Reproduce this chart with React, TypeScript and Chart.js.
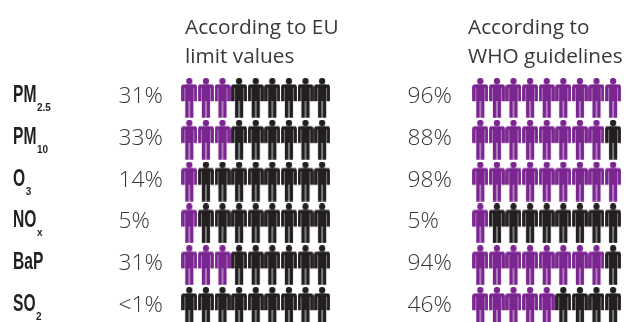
import React, { useEffect, useRef } from "react";
import { Chart, registerables } from "chart.js";

Chart.register(...registerables);

const rows = ["PM", "PM", "O", "NO", "BaP", "SO"];
const subs = ["2.5", "10", "3", "x", "", "2"];
const euLabels = ["31%", "33%", "14%", "5%", "31%", "<1%"];
const whoLabels = ["96%", "88%", "98%", "5%", "94%", "46%"];
const euFilled = [3, 3, 1, 1, 3, 0];
const whoFilled = [9, 8, 9, 1, 8, 5];
const euTitle = ["According to EU", "limit values"];
const whoTitle = ["According to", "WHO guidelines"];
const PEOPLE = 9;
const WHO_OFFSET = 17.53;
const PURPLE = "#7b2590";
const BLACK = "#231f20";
const TEXT = "#38383a";

function person(color: string) {
  const c = document.createElement("canvas");
  c.width = 16;
  c.height = 40;
  const g = c.getContext("2d")!;
  g.translate(8, 0);
  g.fillStyle = color;
  g.beginPath();
  g.arc(0, 3.1, 3.2, 0, Math.PI * 2);
  g.fill();
  // shoulders and torso
  g.beginPath();
  g.roundRect(-4.6, 6.6, 9.2, 16.4, [2, 2, 0, 0]);
  g.fill();
  // arms
  g.beginPath();
  g.roundRect(-7.9, 6.6, 2.9, 16.6, [2.4, 0, 0, 0]);
  g.roundRect(5.0, 6.6, 2.9, 16.6, [0, 2.4, 0, 0]);
  g.rect(-7, 6.6, 14, 3.2);
  g.fill();
  // legs
  g.beginPath();
  g.rect(-4.1, 22, 3.7, 17.7);
  g.rect(0.4, 22, 3.7, 17.7);
  g.fill();
  return c;
}

function points(filled: number[], offset: number, purple: boolean) {
  const out: { x: number; y: number }[] = [];
  filled.forEach((n, y) => {
    for (let i = 0; i < PEOPLE; i++) {
      if (i < n === purple) out.push({ x: i + offset, y });
    }
  });
  return out;
}

const textPlugin = {
  id: "texts",
  afterDatasetsDraw(chart: any) {
    const ctx = chart.ctx as CanvasRenderingContext2D;
    const yScale = chart.scales.y;
    ctx.save();
    ctx.textBaseline = "alphabetic";
    ctx.textAlign = "left";
    ctx.fillStyle = TEXT;
    ctx.font = '400 20.8px "Open Sans"';
    euTitle.forEach((t, i) => ctx.fillText(t, 185, 33.5 + i * 29));
    whoTitle.forEach((t, i) => ctx.fillText(t, 468, 33.5 + i * 29));
    ctx.font = '300 22.8px "Open Sans"';
    rows.forEach((_, i) => {
      const y = yScale.getPixelForValue(i) + 5;
      ctx.fillText(euLabels[i], 118.5, y);
      ctx.fillText(whoLabels[i], 407.5, y);
    });
    ctx.fillStyle = "#231f20";
    rows.forEach((name, i) => {
      const y = yScale.getPixelForValue(i) + 4;
      ctx.save();
      ctx.translate(13, y);
      ctx.save();
      ctx.scale(0.65, 1);
      ctx.font = 'bold 24px "Liberation Sans"';
      ctx.fillText(name, 0, 0);
      const w = ctx.measureText(name).width * 0.65;
      ctx.restore();
      ctx.scale(0.95, 1);
      ctx.font = 'bold 10.5px "Liberation Sans"';
      ctx.fillText(subs[i], (w + 0.5) / 0.95, 9);
      ctx.restore();
    });
    ctx.restore();
  },
};

export default function App() {
  const ref = useRef<HTMLCanvasElement>(null);
  useEffect(() => {
    document.body.style.margin = "0";
    const purple = person(PURPLE);
    const black = person(BLACK);
    const common = { pointRadius: 10, showLine: false };
    const chart = new Chart(ref.current!, {
      type: "scatter",
      data: {
        datasets: [
          { label: "EU exceed", data: points(euFilled, 0, true), pointStyle: purple, ...common },
          { label: "EU below", data: points(euFilled, 0, false), pointStyle: black, ...common },
          { label: "WHO exceed", data: points(whoFilled, WHO_OFFSET, true), pointStyle: purple, ...common },
          { label: "WHO below", data: points(whoFilled, WHO_OFFSET, false), pointStyle: black, ...common },
        ],
      } as any,
      options: {
        animation: false,
        responsive: false,
        layout: { padding: 0, autoPadding: false },
        clip: false,
        plugins: { legend: { display: false }, tooltip: { enabled: false } },
        scales: {
          x: { type: "linear", display: false, min: -189.3 / 16.6, max: (626 - 189.3) / 16.6 },
          y: { type: "linear", display: false, reverse: true, min: -98 / 41.8, max: (322 - 98) / 41.8 },
        },
      } as any,
      plugins: [textPlugin],
    });
    return () => chart.destroy();
  }, []);
  return <canvas ref={ref} width={626} height={322} style={{ display: "block" }} />;
}
